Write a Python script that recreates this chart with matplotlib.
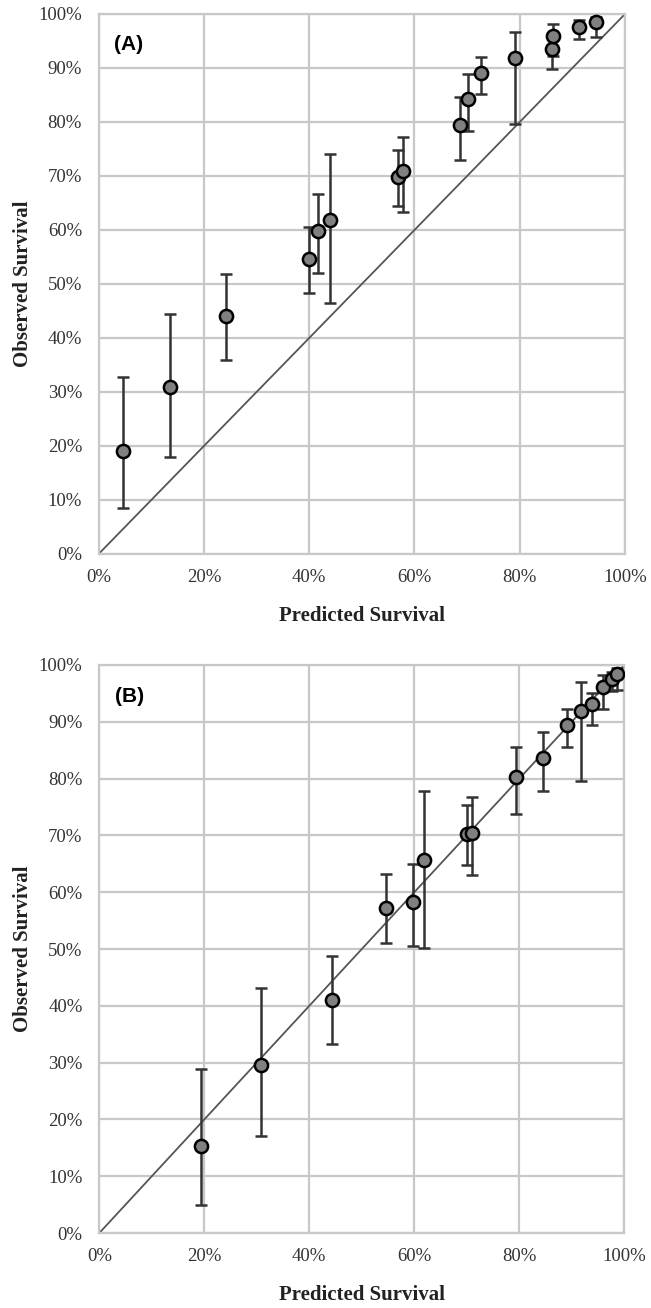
import numpy as np
import matplotlib.pyplot as plt
from matplotlib.ticker import MultipleLocator, PercentFormatter

# panel A: predicted vs observed survival (%), with CI bounds
pred_a = [4.6, 13.6, 24.1, 40.0, 41.6, 44.0, 56.8, 57.8, 68.6, 70.2, 72.7, 79.1, 86.2, 86.4, 91.3, 94.4]
obs_a = [19.1, 30.9, 44.1, 54.6, 59.8, 61.8, 69.9, 70.9, 79.4, 84.3, 89.0, 91.8, 93.6, 96.0, 97.6, 98.6]
lo_a = [8.6, 18.0, 35.9, 48.4, 52.0, 46.5, 64.4, 63.4, 73.0, 78.3, 85.2, 79.6, 89.9, 92.3, 95.4, 95.8]
hi_a = [32.7, 44.4, 51.8, 60.6, 66.7, 74.1, 74.9, 77.2, 84.7, 88.9, 92.0, 96.7, 96.3, 98.1, 98.8, 99.5]

# panel B
pred_b = [19.3, 30.8, 44.3, 54.7, 59.7, 61.8, 70.0, 70.9, 79.4, 84.5, 89.1, 91.8, 93.8, 96.0, 97.6, 98.7]
obs_b = [15.3, 29.5, 41.1, 57.3, 58.2, 65.7, 70.3, 70.5, 80.2, 83.7, 89.4, 91.9, 93.2, 96.1, 97.5, 98.4]
lo_b = [4.9, 17.0, 33.2, 51.0, 50.5, 50.2, 64.8, 63.0, 73.8, 77.8, 85.5, 79.6, 89.4, 92.3, 95.4, 95.6]
hi_b = [28.9, 43.1, 48.8, 63.2, 65.0, 77.8, 75.3, 76.8, 85.5, 88.2, 92.3, 97.0, 95.1, 98.2, 98.7, 99.5]

panels = [
    ('(A)', pred_a, obs_a, lo_a, hi_a),
    ('(B)', pred_b, obs_b, lo_b, hi_b),
]

fig = plt.figure(figsize=(6.51, 13.08), dpi=100)
rects = [
    [0.1516, 0.5765, 0.8085, 0.4128],
    [0.1525, 0.0573, 0.8065, 0.4343],
]

serif = ['Liberation Serif', 'DejaVu Serif']
grid_col = '#c8c8c8'

for rect, (tag, pred, obs, lo, hi) in zip(rects, panels):
    ax = fig.add_axes(rect)
    obs = np.array(obs)
    yerr = [obs - np.array(lo), np.array(hi) - obs]

    ax.plot([0, 100], [0, 100], color='#555555', lw=1.3, zorder=2)
    ax.errorbar(pred, obs, yerr=yerr, fmt='o', ms=9.5, mfc='#808080', mec='black',
                mew=1.8, ecolor='#333333', elinewidth=1.8, capsize=4, capthick=1.8,
                zorder=3)

    ax.set_xlim(0, 100)
    ax.set_ylim(0, 100)
    ax.xaxis.set_major_locator(MultipleLocator(20))
    ax.yaxis.set_major_locator(MultipleLocator(10))
    ax.xaxis.set_major_formatter(PercentFormatter(decimals=0))
    ax.yaxis.set_major_formatter(PercentFormatter(decimals=0))
    ax.grid(True, color=grid_col, lw=1.6, zorder=0)
    ax.set_axisbelow(True)
    for s in ax.spines.values():
        s.set_color(grid_col)
        s.set_linewidth(1.6)
    ax.tick_params(length=0, pad=11, labelsize=13.5, labelcolor='#333333')
    ax.tick_params(axis='y', pad=12)
    for lab in ax.get_xticklabels() + ax.get_yticklabels():
        lab.set_family(serif)

    ax.set_xlabel('Predicted Survival', family=serif, fontweight='bold', fontsize=15,
                  color='#222222', labelpad=14)
    ax.set_ylabel('Observed Survival', family=serif, fontweight='bold', fontsize=15,
                  color='#222222', labelpad=4)
    ax.text(0.03, 0.944, tag, transform=ax.transAxes, family=['Liberation Sans', 'DejaVu Sans'],
            fontweight='bold', fontsize=15, va='center', ha='left')

fig.savefig('out.png', dpi=100)
